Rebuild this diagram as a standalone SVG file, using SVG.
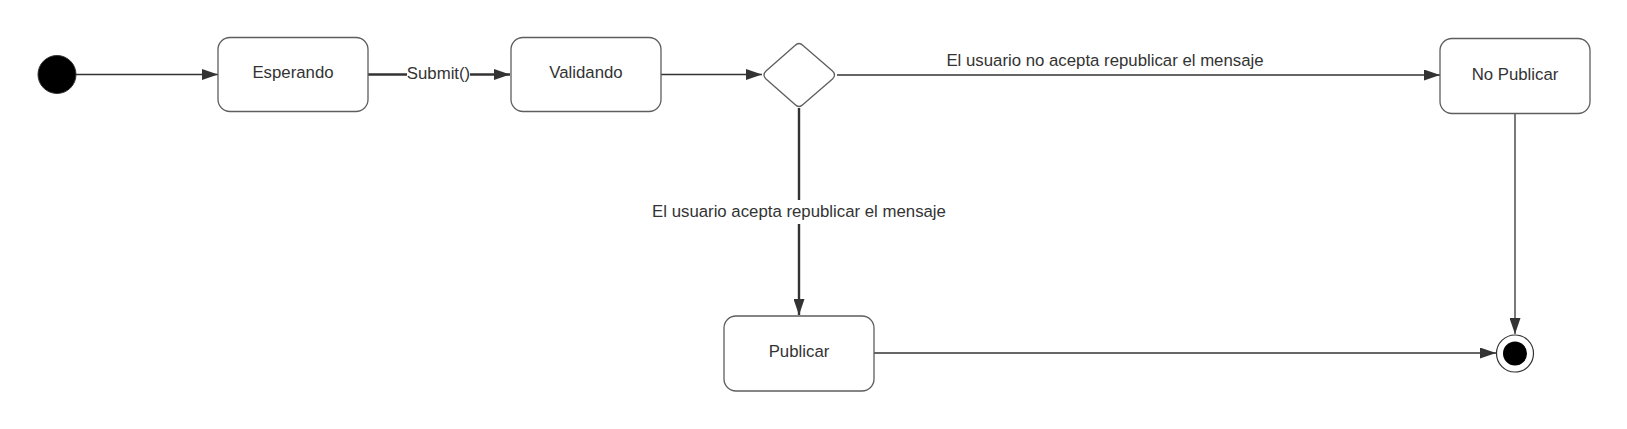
<svg xmlns="http://www.w3.org/2000/svg" width="1627" height="429" viewBox="0 0 1627 429">
<style>
.box{fill:#fff;stroke:#5e5e5e;stroke-width:1.3}
.t{font-family:"Liberation Sans",Arial,sans-serif;font-size:16.8px;fill:#333;text-anchor:middle}
.c{fill:none;stroke:#333;stroke-width:1.3}
.c2{fill:none;stroke:#333;stroke-width:2.4}
</style>
<defs>
<marker id="ah" markerUnits="userSpaceOnUse" markerWidth="16" markerHeight="11" refX="16" refY="5.5" orient="auto">
<path d="M0,0 L16,5.5 L0,11 z" fill="#333"/>
</marker>
</defs>
<g id="connectors">
<line class="c" x1="76" y1="74.5" x2="218" y2="74.5" marker-end="url(#ah)"/>
<line class="c2" x1="368" y1="74.5" x2="510" y2="74.5" marker-end="url(#ah)"/>
<line class="c" x1="661" y1="74.5" x2="762" y2="74.5" marker-end="url(#ah)"/>
<line class="c" x1="837" y1="75" x2="1440" y2="75" marker-end="url(#ah)"/>
<line class="c2" x1="799" y1="108" x2="799" y2="315" marker-end="url(#ah)"/>
<line class="c" x1="1515" y1="113" x2="1515" y2="334" marker-end="url(#ah)"/>
<line class="c" x1="874" y1="353" x2="1496" y2="353" marker-end="url(#ah)"/>
<rect x="407" y="62" width="63" height="24" fill="#fff"/>
<text class="t" x="438.5" y="78.5">Submit()</text>
<text class="t" x="1105" y="65.5">El usuario no acepta republicar el mensaje</text>
<rect x="646" y="200" width="306" height="24" fill="#fff"/>
<text class="t" x="799" y="216.5">El usuario acepta republicar el mensaje</text>
</g>
<g id="initial"><circle cx="57" cy="74.5" r="19" fill="#000" stroke="#333" stroke-width="1"/></g>
<g id="esperando"><rect class="box" x="218" y="37.5" width="150" height="74" rx="12"/><text class="t" x="293" y="77.5">Esperando</text></g>
<g id="validando"><rect class="box" x="511" y="37.5" width="150" height="74" rx="12"/><text class="t" x="586" y="77.5">Validando</text></g>
<g id="decision"><path class="box" d="M795,45.5 Q799,41.5 803,45.5 L832.5,71 Q836.5,75 832.5,79 L803,104.5 Q799,108.5 795,104.5 L766,79 Q762,75 766,71 Z"/></g>
<g id="nopublicar"><rect class="box" x="1440" y="38.5" width="150" height="75" rx="12"/><text class="t" x="1515" y="79.5">No Publicar</text></g>
<g id="publicar"><rect class="box" x="724" y="316" width="150" height="75" rx="12"/><text class="t" x="799" y="356.5">Publicar</text></g>
<g id="final"><circle cx="1515" cy="353.5" r="18.5" fill="#fff" stroke="#333" stroke-width="1.2"/><circle cx="1515" cy="353.5" r="12" fill="#000"/></g>
</svg>
